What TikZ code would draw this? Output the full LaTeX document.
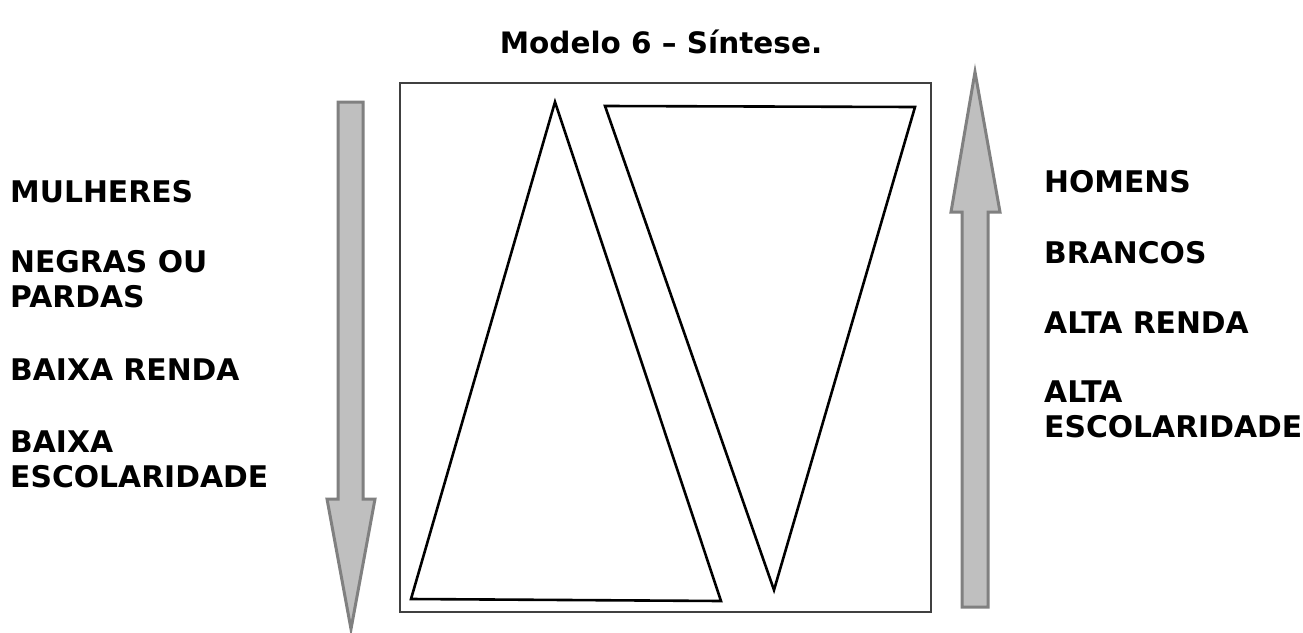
\documentclass[tikz,border=0pt]{standalone}
\usepackage{fontspec}
\setmainfont{DejaVu Sans}
\begin{document}
\begin{tikzpicture}[x=1pt,y=-1pt,
  lbl/.style={anchor=base west,inner sep=0pt,font=\bfseries\fontsize{29.8}{35}\selectfont},
  ttl/.style={anchor=base,inner sep=0pt,font=\bfseries\fontsize{29.5}{35}\selectfont},
  tri/.style={draw=black,line width=2.6pt,line join=miter},
  frame/.style={draw=black!75,line width=1.5pt},
  grayarrow/.style={fill=black!25,draw=black!50,line width=3pt,line join=miter}]
\useasboundingbox (0,0) rectangle (1303,632);
% title
\node[ttl] (title) at (661,53) {Modelo 6 -- Síntese.};
% frame
\draw[frame] (400,83) rectangle (931,612);
% triangles
\draw[tri] (555,102) -- (411,599) -- (721,601) -- cycle;
\draw[tri] (605,106) -- (915,107) -- (774,590) -- cycle;
% left arrow (down)
\draw[grayarrow] (338,102) -- (363,102) -- (363,499) -- (375,499) -- (351,629) -- (327,499) -- (338,499) -- cycle;
% right arrow (up)
\draw[grayarrow] (962,607) -- (988,607) -- (988,212) -- (1000,212) -- (975,72) -- (951,212) -- (962,212) -- cycle;
% left labels
\node[lbl] (mul) at (10,202) {MULHERES};
\node[lbl] (neg) at (10,272) {NEGRAS OU};
\node[lbl] (par) at (10,307) {PARDAS};
\node[lbl] (brl) at (10,380) {BAIXA RENDA};
\node[lbl] (bx) at (10,452) {BAIXA};
\node[lbl] (escl) at (10,487) {ESCOLARIDADE};
% right labels
\node[lbl] (hom) at (1044,192) {HOMENS};
\node[lbl] (bra) at (1044,263) {BRANCOS};
\node[lbl] (arr) at (1044,333) {ALTA RENDA};
\node[lbl] (alta) at (1044,402) {ALTA};
\node[lbl] (escr) at (1044,437) {ESCOLARIDADE};
\end{tikzpicture}
\end{document}
